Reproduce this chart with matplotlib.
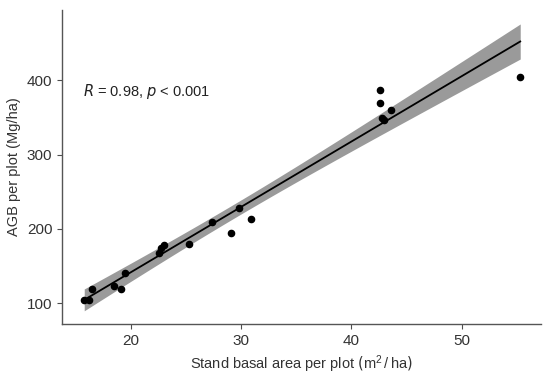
import numpy as np
import matplotlib
matplotlib.use("Agg")
import matplotlib.pyplot as plt

plt.rcParams['font.family'] = ['Liberation Sans', 'DejaVu Sans']

# stand basal area (m2/ha) and AGB (Mg/ha) per plot
basal_area = [15.8, 16.2, 16.5, 18.5, 19.1, 19.5, 22.6, 22.8, 23.0, 25.3,
              27.4, 29.1, 29.8, 30.9, 42.6, 42.6, 42.8, 43.0, 43.6, 55.3]
agb = [103.5, 103.5, 119, 123, 119, 141, 168, 174, 177.6, 180,
       208.6, 194.7, 227.5, 213.6, 386.5, 369, 350, 347, 359.6, 404]
x_ticks = [20, 30, 40, 50]
y_ticks = [100, 200, 300, 400]

x = np.array(basal_area)
y = np.array(agb)
n = len(x)
slope, intercept = np.polyfit(x, y, 1)
resid = y - (slope * x + intercept)
s = np.sqrt(np.sum(resid ** 2) / (n - 2))
t_val = 2.101  # t(0.975, df=18)
xs = np.linspace(x.min(), x.max(), 100)
fit = slope * xs + intercept
se = s * np.sqrt(1 / n + (xs - x.mean()) ** 2 / np.sum((x - x.mean()) ** 2))
r = np.corrcoef(x, y)[0, 1]

fig, ax = plt.subplots(figsize=(5.5, 3.81), dpi=100)
fig.subplots_adjust(left=0.113, right=0.984, top=0.974, bottom=0.15)

ax.fill_between(xs, fit - t_val * se, fit + t_val * se, color='#9a9a9a', lw=0)
ax.plot(xs, fit, color='black', lw=1.3)
ax.scatter(x, y, s=20, color='black', zorder=3)

ax.text(15.65, 385, r'$\it{R}$ = %.2f, $\it{p}$ < 0.001' % r, fontsize=10.5,
        color='#222222', va='center')

ax.set_xlim(13.8, 57.2)
ax.set_ylim(72, 495)
ax.set_xticks(x_ticks)
ax.set_yticks(y_ticks)
ax.tick_params(colors='#4d4d4d', labelsize=11, length=3.5, width=0.8)
ax.tick_params(labelcolor='#333333')
for side in ['top', 'right']:
    ax.spines[side].set_visible(False)
for side in ['left', 'bottom']:
    ax.spines[side].set_color('#555555')
    ax.spines[side].set_linewidth(1.0)

ax.set_xlabel(r'Stand basal area per plot $\left(\mathregular{m^2\,/\,ha}\right)$',
              fontsize=10.5, color='#333333')
ax.set_ylabel('AGB per plot (Mg/ha)', fontsize=10.5, color='#333333')

fig.savefig('out.png', dpi=100)
